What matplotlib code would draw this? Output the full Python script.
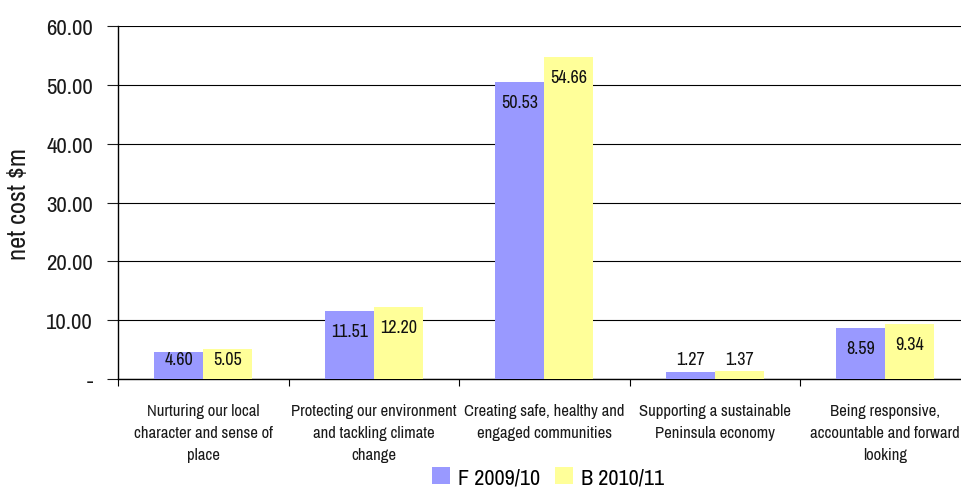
import matplotlib
matplotlib.use("Agg")
import matplotlib.pyplot as plt
import numpy as np

categories = [
    "Nurturing our local\ncharacter and sense of\nplace",
    "Protecting our environment\nand tackling climate\nchange",
    "Creating safe, healthy and\nengaged communities",
    "Supporting a sustainable\nPeninsula economy",
    "Being responsive,\naccountable and forward\nlooking",
]
series_names = ["F 2009/10", "B 2010/11"]
f_2009 = [4.60, 11.51, 50.53, 1.27, 8.59]
b_2010 = [5.05, 12.20, 54.66, 1.37, 9.34]
yticks = [0, 10, 20, 30, 40, 50, 60]

plt.rcParams['font.family'] = ['Archivo Narrow', 'PT Sans Narrow', 'DejaVu Sans']

fig = plt.figure(figsize=(9.62, 4.89), dpi=100)
# plot area is a bit wider than the figure on the right, as in the original
ax = fig.add_axes([118 / 962, 109 / 489, 852.5 / 962, 353 / 489])

x = np.arange(len(categories))
w = 0.287
bars1 = ax.bar(x - w / 2, f_2009, w, color="#9999FF", label=series_names[0], zorder=3)
bars2 = ax.bar(x + w / 2, b_2010, w, color="#FFFF99", label=series_names[1], zorder=3)

# value labels: just under the bar top, but never lower than a fixed height
off = 3.4
for bars, vals in [(bars1, f_2009), (bars2, b_2010)]:
    for b, v in zip(bars, vals):
        ax.text(b.get_x() + b.get_width() / 2, max(v - off, off), "%.2f" % v,
                ha="center", va="center", fontsize=13, color="#111111", zorder=4)

ax.set_xlim(-0.5, len(categories) - 0.5)
ax.set_ylim(0, 60)
ax.set_yticks(yticks)
ax.set_yticklabels(["-" if t == 0 else "%.2f" % t for t in yticks], fontsize=16.5)
ax.yaxis.grid(True, color="black", linewidth=0.8)
ax.set_axisbelow(True)
ax.tick_params(axis="y", length=8, width=0.8, pad=10, colors="#1a1a1a")

ax.set_xticks(x)
ax.set_xticklabels(categories, fontsize=12, linespacing=1.6)
ax.set_xticks(np.arange(-0.5, len(categories)), minor=True)
ax.tick_params(axis="x", which="major", length=0, pad=17, colors="#1a1a1a")
ax.tick_params(axis="x", which="minor", length=5, width=0.8)

ax.set_ylabel("net cost $m", fontsize=19, labelpad=12, color="#1a1a1a")

for s in ["top", "right"]:
    ax.spines[s].set_visible(False)
ax.spines["left"].set_linewidth(1)
ax.spines["bottom"].set_linewidth(1)

fig.legend(loc="center", bbox_to_anchor=(548 / 962, 11 / 489), ncol=2, frameon=False,
           fontsize=16, handlelength=0.8, handleheight=0.8, handletextpad=0.35,
           columnspacing=0.7)

fig.savefig("out.png", dpi=100)
